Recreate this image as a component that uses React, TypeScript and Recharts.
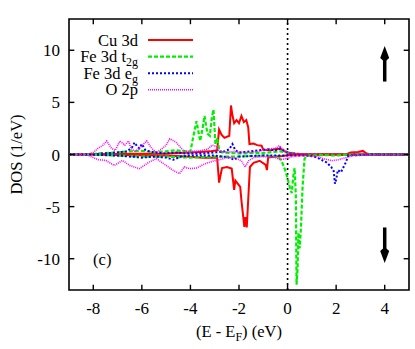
import React from "react"
import {
  LineChart,
  Line,
  XAxis,
  YAxis,
  ReferenceLine,
  ReferenceArea,
  ReferenceDot,
  Legend,
} from "recharts"

// energy (eV) vs DOS (1/eV); spin down stored as negative values
const xTicks = [-8, -6, -4, -2, 0, 2, 4]
const yTicks = [-10, -5, 0, 5, 10]

const speciesNames = ["Cu 3d", "Fe 3d t", "Fe 3d e", "O 2p"]
const speciesSubs = ["", "2g", "g", ""]
const speciesColors = ["#ff0000", "#00ee00", "#0000ff", "#ff00ff"]
const speciesDash = ["", "4 2", "2 2", "1 1"]
const speciesWidth = [2, 2.2, 2, 1.6]

const cuUp: [number, number][] = [
  [-9, 0], [-8.2, 0], [-7.5, 0.05], [-6, 0.08], [-5, 0.1], [-4.5, 0.15], [-4, 0.2],
  [-3.6, 0.25], [-3.2, 0.3], [-2.9, 0.4], [-2.82, 2.4], [-2.72, 1.9], [-2.6, 1.6],
  [-2.4, 1.8], [-2.33, 4.7], [-2.28, 3.9], [-2.2, 3.0], [-2.1, 3.3], [-2.0, 3.0],
  [-1.9, 3.7], [-1.8, 3.1], [-1.7, 3.3], [-1.62, 2.6], [-1.57, 1.0], [-1.4, 1.05],
  [-1.25, 0.9], [-1.07, 0.85], [-1.0, 0.45], [-0.7, 0.4], [-0.45, 0.55], [-0.25, 0.5],
  [-0.05, 0.2], [0.2, 0.02], [2.4, 0], [2.6, 0.2], [2.9, 0.25], [3.1, 0.35],
  [3.25, 0.1], [3.4, 0], [5, 0],
]
const cuDown: [number, number][] = [
  [-9, 0], [-8.2, 0], [-7, -0.05], [-5, -0.1], [-4.2, -0.2], [-3.5, -0.3], [-2.9, -0.3],
  [-2.82, -2.7], [-2.7, -1.3], [-2.5, -1.2], [-2.3, -1.35], [-2.2, -3.4], [-2.15, -2.5],
  [-1.95, -3.1], [-1.9, -4.4], [-1.78, -6.95], [-1.74, -6.0], [-1.68, -7.0], [-1.6, -3.4],
  [-1.55, -1.2], [-1.4, -0.8], [-1.15, -0.6], [-0.9, -1.0], [-0.85, -1.5], [-0.8, -0.3],
  [-0.5, -0.2], [-0.2, -0.15], [0.1, -0.05], [0.3, 0], [5, 0],
]
const t2gUp: [number, number][] = [
  [-9, 0], [-8.2, 0], [-7.8, 0.1], [-7, 0.2], [-6.5, 0.3], [-6, 0.35], [-5.5, 0.2],
  [-5, 0.3], [-4.6, 0.4], [-4.2, 0.3], [-4.0, 0.3], [-3.9, 1.5], [-3.75, 3.2],
  [-3.6, 1.3], [-3.5, 2.5], [-3.42, 3.7], [-3.3, 2.0], [-3.2, 1.8], [-3.12, 3.5],
  [-3.05, 4.3], [-2.97, 1.0], [-2.9, 1.6], [-2.82, 0.5], [-2.7, 0.2], [-2, 0.1],
  [-1, 0.15], [-0.3, 0.3], [0, 0.2], [0.5, 0.05], [1, 0], [5, 0],
]
const t2gDown: [number, number][] = [
  [-9, 0], [-8.2, 0], [-7, -0.1], [-6, -0.2], [-5, -0.2], [-4, -0.3], [-3, -0.2],
  [-2, -0.2], [-1, -0.1], [-0.4, -0.2], [-0.25, -0.6], [-0.1, -1.5], [0, -2.3],
  [0.1, -3.2], [0.17, -3.7], [0.24, -2.0], [0.29, -1.3], [0.34, -4], [0.37, -12.5],
  [0.41, -11], [0.45, -7.5], [0.5, -9.0], [0.55, -7], [0.62, -3], [0.7, -0.4],
  [0.8, -0.1], [1.5, -0.05], [2, -0.1], [2.5, 0], [5, 0],
]
const egUp: [number, number][] = [
  [-9, 0], [-8.2, 0], [-7.6, 0.1], [-7, 0.2], [-6.6, 0.3], [-6.4, 0.7], [-6.3, 1.15],
  [-6.2, 0.8], [-6.1, 0.6], [-6.0, 1.0], [-5.85, 0.4], [-5.5, 0.2], [-5, 0.1],
  [-4.6, 0.2], [-4.2, 0.1], [-3.5, 0.1], [-3, 0.2], [-2.6, 0.3], [-2.4, 0.5],
  [-2.27, 1.0], [-2.15, 0.4], [-2.0, 0.2], [-1.5, 0.3], [-1.2, 0.4], [-0.8, 0.5],
  [-0.5, 0.4], [-0.3, 0.6], [-0.1, 0.3], [0.2, 0.1], [0.5, 0], [5, 0],
]
const egDown: [number, number][] = [
  [-9, 0], [-8.2, 0], [-7, -0.1], [-6.5, -0.2], [-6, -0.3], [-5.5, -0.2], [-5, -0.3],
  [-4.7, -0.5], [-4.4, -0.2], [-4, -0.1], [-3, -0.1], [-2.4, -0.3], [-2.2, -0.5],
  [-2.0, -0.2], [-1, -0.1], [0, -0.1], [0.8, -0.1], [1.1, -0.2], [1.3, -0.4],
  [1.6, -0.75], [1.8, -1.2], [1.9, -1.6], [1.95, -2.8], [2.0, -2.4], [2.07, -1.5],
  [2.2, -1.7], [2.4, -0.75], [2.5, -0.1], [3, -0.05], [3.5, 0], [5, 0],
]
const o2pUp: [number, number][] = [
  [-9, 0], [-8.3, 0], [-8.0, 0.2], [-7.8, 0.6], [-7.6, 0.9], [-7.45, 1.3], [-7.25, 0.6],
  [-7.1, 0.4], [-6.9, 1.3], [-6.7, 0.9], [-6.55, 1.3], [-6.45, 0.6], [-6.3, 0.3],
  [-6.1, 0.6], [-5.8, 1.3], [-5.6, 0.6], [-5.4, 0.2], [-5.2, 0.5], [-5.0, 0.9],
  [-4.85, 1.5], [-4.6, 1.2], [-4.3, 0.4], [-4.1, 0.3], [-3.8, 0.3], [-3.5, 0.4],
  [-3.3, 0.5], [-3.1, 0.9], [-2.95, 0.8], [-2.8, 0.3], [-2.5, 0.2], [-2.2, 0.3],
  [-2, 0.2], [-1.6, 0.2], [-1.2, 0.3], [-0.8, 0.5], [-0.5, 0.6], [-0.33, 0.85],
  [-0.2, 0.5], [0, 0.2], [0.3, 0.1], [1, 0], [2.5, 0.05], [3, 0.15], [3.5, 0.05],
  [3.8, 0], [5, 0],
]
const o2pDown: [number, number][] = [
  [-9, 0], [-8.3, 0], [-8.0, -0.3], [-7.8, -0.5], [-7.48, -0.57], [-7.13, -1.05],
  [-6.8, -0.57], [-6.5, -1.05], [-6.1, -1.36], [-5.7, -0.73], [-5.4, -0.4], [-5.0, -1.05],
  [-4.73, -1.5], [-4.45, -1.84], [-4.25, -1.2], [-4.04, -1.36], [-3.75, -1.3],
  [-3.5, -1.0], [-3.3, -0.8], [-3.0, -0.6], [-2.8, -0.5], [-2.5, -0.3], [-2.2, -0.3],
  [-1.9, -0.6], [-1.75, -1.2], [-1.6, -0.6], [-1.4, -0.3], [-1, -0.2], [-0.5, -0.3],
  [-0.3, -0.5], [-0.1, -0.4], [0.2, -0.2], [0.6, -0.1], [1.2, -0.2], [1.5, -0.4],
  [1.8, -0.6], [2.1, -0.5], [2.4, -0.3], [2.7, -0.1], [3.5, -0.05], [3.8, 0], [5, 0],
]

const seriesUp = [cuUp, t2gUp, egUp, o2pUp]
const seriesDown = [cuDown, t2gDown, egDown, o2pDown]

const toPts = (arr: [number, number][]) => arr.map(([x, y]) => ({ x, y }))

const FONT = "'Liberation Serif', 'Times New Roman', serif"

const Arrow = (p: any) => {
  const { x1, y1, x2, y2 } = p
  const dir = y2 < y1 ? -1 : 1
  const headLen = 14
  const headW = 4.5
  const baseY = y2 - dir * headLen
  return (
    <g>
      <line x1={x1} y1={y1} x2={x2} y2={baseY} stroke="#000" strokeWidth={3.5} />
      <polygon
        points={`${x2},${y2} ${x2 - headW},${baseY + dir * 2} ${x2},${baseY - dir * 2} ${x2 + headW},${baseY + dir * 2}`}
        fill="#000"
      />
    </g>
  )
}

const LegendBox = () => (
  <svg width={210} height={100} style={{ display: "block" }}>
    {speciesNames.map((name, i) => {
      const y = 40 + i * 16.6
      return (
        <g key={name}>
          <text x={138} y={y + 5.5} textAnchor="end" fontFamily={FONT} fontSize={16.5} fill="#000">
            {name}
            {speciesSubs[i] && (
              <tspan dy={4} fontSize={12}>
                {speciesSubs[i]}
              </tspan>
            )}
          </text>
          <line
            x1={148}
            x2={193}
            y1={y}
            y2={y}
            stroke={speciesColors[i]}
            strokeWidth={speciesWidth[i]}
            strokeDasharray={speciesDash[i] || undefined}
          />
        </g>
      )
    })}
  </svg>
)

const XLabel = (props: any) => {
  const { x, y, width } = props.viewBox
  return (
    <text x={x + width / 2} y={y + 47} textAnchor="middle" fontFamily={FONT} fontSize={16.5} fill="#000">
      (E - E
      <tspan dy={4} fontSize={12}>F</tspan>
      <tspan dy={-4}>) (eV)</tspan>
    </text>
  )
}

const YLabel = (props: any) => {
  const { y, height } = props.viewBox
  const cy = y + height / 2
  return (
    <text
      x={22}
      y={cy}
      transform={`rotate(-90 22 ${cy})`}
      textAnchor="middle"
      fontFamily={FONT}
      fontSize={16.5}
      fill="#000"
    >
      DOS (1/eV)
    </text>
  )
}

export default function App() {
  const tickStyle = { fontFamily: FONT, fontSize: 17, fill: "#000" }
  return (
    <div style={{ position: "absolute", left: 0, top: 0, width: 415, height: 349, background: "#fff" }}>
      <LineChart width={415} height={349} margin={{ top: 19, right: 6, bottom: 0, left: 0 }}>
        <XAxis
          dataKey="x"
          type="number"
          domain={[-9, 5]}
          ticks={xTicks}
          allowDataOverflow
          axisLine={false}
          tickLine={false}
          tickSize={0}
          tickMargin={12}
          height={59}
          tick={tickStyle}
          label={<XLabel />}
        />
        <YAxis
          type="number"
          domain={[-13, 13]}
          ticks={yTicks}
          allowDataOverflow
          axisLine={false}
          tickLine={false}
          tickSize={0}
          tickMargin={9}
          width={69}
          tick={tickStyle}
          label={<YLabel />}
        />
        <ReferenceLine x={0} stroke="#000" strokeWidth={1.6} strokeDasharray="2 3" />
        {seriesUp.map((s, i) => (
          <Line
            key={`up-${i}`}
            data={toPts(s)}
            dataKey="y"
            name={speciesNames[i] + speciesSubs[i]}
            type="linear"
            stroke={speciesColors[i]}
            strokeWidth={speciesWidth[i]}
            strokeDasharray={speciesDash[i] || undefined}
            dot={false}
            activeDot={false}
            isAnimationActive={false}
          />
        ))}
        {seriesDown.map((s, i) => (
          <Line
            key={`down-${i}`}
            data={toPts(s)}
            dataKey="y"
            name={speciesNames[i] + speciesSubs[i] + " down"}
            legendType="none"
            type="linear"
            stroke={speciesColors[i]}
            strokeWidth={speciesWidth[i]}
            strokeDasharray={speciesDash[i] || undefined}
            dot={false}
            activeDot={false}
            isAnimationActive={false}
          />
        ))}
        <ReferenceArea x1={-9} x2={5} y1={-13} y2={13} fill="none" stroke="#000" strokeWidth={1.6} />
        {xTicks.map((t) => (
          <ReferenceLine key={`xb${t}`} segment={[{ x: t, y: -13 }, { x: t, y: -12.5 }]} stroke="#000" strokeWidth={1.4} />
        ))}
        {xTicks.map((t) => (
          <ReferenceLine key={`xt${t}`} segment={[{ x: t, y: 13 }, { x: t, y: 12.5 }]} stroke="#000" strokeWidth={1.4} />
        ))}
        {yTicks.map((t) => (
          <ReferenceLine key={`yl${t}`} segment={[{ x: -9, y: t }, { x: -8.78, y: t }]} stroke="#000" strokeWidth={1.4} />
        ))}
        {yTicks.map((t) => (
          <ReferenceLine key={`yr${t}`} segment={[{ x: 5, y: t }, { x: 4.78, y: t }]} stroke="#000" strokeWidth={1.4} />
        ))}
        <ReferenceLine segment={[{ x: 4, y: 7.0 }, { x: 4, y: 10.4 }]} shape={Arrow} />
        <ReferenceLine segment={[{ x: 4, y: -7.0 }, { x: 4, y: -10.4 }]} shape={Arrow} />
        <ReferenceDot
          x={-7.63}
          y={-10}
          r={0}
          fill="none"
          stroke="none"
          label={{ value: "(c)", position: "center", fontFamily: FONT, fontSize: 16.5, fill: "#000" }}
        />
        <Legend
          layout="vertical"
          align="center"
          verticalAlign="middle"
          wrapperStyle={{ left: 0, top: 0, width: 210, height: 100 }}
          content={() => <LegendBox />}
        />
      </LineChart>
    </div>
  )
}
